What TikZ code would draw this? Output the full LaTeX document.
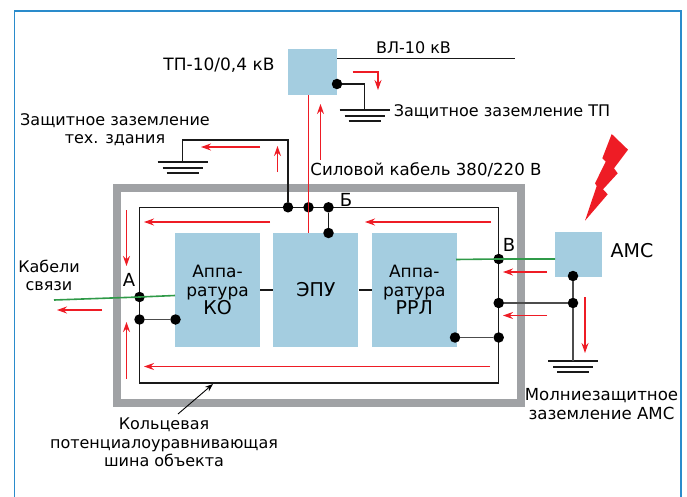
\documentclass[tikz,border=0pt]{standalone}
\usepackage{fontspec}
\setmainfont{DejaVu Sans}
\usepackage{tikz}
\usetikzlibrary{positioning,arrows.meta}
\definecolor{albastru}{HTML}{A4CDE0}
\definecolor{cadru}{HTML}{2A8BCB}
\definecolor{rosu}{HTML}{EE1C25}
\definecolor{verde}{HTML}{2F9A48}
\definecolor{gri}{HTML}{A0A2A5}
\newcommand{\mare}{\fontsize{19}{18.5}\selectfont}
\tikzset{
  bloc/.style     = {fill=albastru, inner sep=0pt, align=center, minimum width=85pt,
                     minimum height=114pt, font=\fontsize{17}{18.5}\selectfont},
  blocmic/.style  = {fill=albastru, inner sep=0pt},
  eticheta/.style = {font=\fontsize{16}{18.5}\selectfont, inner sep=0pt, align=center},
  litera/.style   = {font=\fontsize{18}{18.5}\selectfont, inner sep=0pt},
  punct/.style    = {circle, fill=black, inner sep=0pt, minimum size=10.5pt},
  fir/.style      = {draw=black!90, line width=1.2pt},
  firgros/.style  = {draw=black!70, line width=1.8pt},
  firverde/.style = {draw=verde, line width=1.6pt},
  sageata/.style  = {draw=rosu, line width=1.1pt, -{Stealth[length=10pt,width=7pt]}},
  zaz/.pic        = {
    \draw[fir] (-25,0) -- (25,0);
    \draw[fir] (-20,6) -- (20,6);
    \draw[fir] (-16,11) -- (16,11);
  }
}
\begin{document}
\begin{tikzpicture}[x=1pt,y=-1pt]
        \useasboundingbox (0,0) rectangle (687,497);
        \coordinate (c1) at (14.5,497);
        \coordinate (c2) at (14.5,11);
        \coordinate (c3) at (681,11);
        \coordinate (c4) at (681,497);
        \draw[cadru, line width=1.5pt] (c1) -- (c2) -- (c3) -- (c4);

        % cladirea si bucla
        \draw[gri, line width=8pt] (117,188) rectangle (521,402.5);
        \draw[fir] (139.5,207.3) rectangle (498.7,383);

        \node[bloc] (ko) at (217.5,290) {Аппа-\\ ратура\\ {\mare КО}};
        \node[bloc, right=13pt of ko] (epu) {\mare ЭПУ};
        \node[bloc, right=13pt of epu] (rrl) {Аппа-\\ ратура\\ {\mare РРЛ}};
        \node[blocmic, minimum width=49pt, minimum height=46pt] (tp) at (312.5,72) {};
        \node[blocmic, minimum width=47pt, minimum height=45pt] (ams) at (578.5,254.5) {};

        \draw[fir] (ko) -- (epu);
        \draw[fir] (epu) -- (rrl);

        % puncte
        \node[punct] (b1) at (288,207.3) {};
        \node[punct] (b2) at (308.5,207.3) {};
        \node[punct] (b3) at (328.5,207.3) {};
        \node[punct] (b4) at (328.5,233) {};
        \node[punct] (a1) at (139.5,297) {};
        \node[punct] (a2) at (139.5,319.5) {};
        \node[punct] (a3) at (175.5,319.5) {};
        \node[punct] (v1) at (498.7,259) {};
        \node[punct] (v2) at (498.7,303) {};
        \node[punct] (v3) at (498.7,337.5) {};
        \node[punct] (v4) at (455,337.5) {};
        \node[punct] (m1) at (573,303) {};
        \node[punct] (m2) at (573,276) {};
        \node[punct] (t1) at (337,84) {};

        % impamantari
        \coordinate (g1) at (182.5,162);
        \coordinate (g1s) at (182.5,140);
        \coordinate (g2) at (364.5,110);
        \coordinate (g2s) at (364.5,84);
        \coordinate (g3) at (573,361);
        \pic at (g1) {zaz};
        \pic at (g2) {zaz};
        \pic at (g3) {zaz};
        \draw[fir] (b1) |- (g1s) -- (g1);
        \draw[fir] (t1) -- (g2s) -- (g2);
        \draw[firgros] (m2) -- (m1) -- (g3);
        \draw[firgros] (v2) -- (m1);
        \draw[firgros] (v3) -- (v4);
        \draw[firgros] (a2) -- (a3);
        \draw[fir] (b3) -- (b4);

        \coordinate (vl) at (515,58.7);
        \draw[fir] (tp.east |- vl) -- (vl);

        % cabluri de legatura
        \coordinate (k1) at (54,300);
        \coordinate (k2) at (175,295.5);
        \coordinate (k3) at (456,259.5);
        \coordinate (k4) at (555,259);
        \draw[firverde] (k1) -- (a1.center) -- (k2);
        \draw[firverde] (k3) -- (v1.center) -- (k4);
        \coordinate (s1) at (308.5,95);
        \coordinate (s2) at (308.5,233);
        \draw[draw=rosu, line width=1.1pt] (s1) -- (s2);

        % fulger
        \fill[rosu] (611.7,134) -- (628,149.7) -- (614,168.3) -- (617.7,173.3) -- (603,189.3)
          -- (607.7,194.3) -- (585,220.7) -- (596.7,186) -- (595,183.3)
          -- (605.7,161.7) -- (602.3,158.3) -- cycle;
        \draw[sageata] (270,222) -- (144,222);
        \draw[sageata] (491,222) -- (365,222);
        \draw[sageata] (490,366.5) -- (144,366.5);
        \draw[sageata] (126.5,210) -- (126.5,266);
        \draw[sageata] (126.5,379) -- (126.5,322);
        \draw[sageata] (260,147) -- (201,147);
        \draw[sageata] (277.5,172) -- (277.5,146);
        \draw[sageata] (320.5,160) -- (320.5,104);
        \draw[sageata] (102,310) -- (57,310);
        \draw[sageata] (547,272) -- (503,272);
        \draw[sageata] (547,315.5) -- (503,315.5);
        \draw[sageata] (585,297) -- (585,353);
        \draw[sageata] (352.5,72) -- (378,72) -- (378,90);

        % etichete
        \node[eticheta] (tvl) at (413.5,48) {ВЛ-10 кВ};
        \node[eticheta, font=\fontsize{17}{18.5}\selectfont] (ttp) at (219,65) {ТП-10/0,4 кВ};
        \node[eticheta] (tzt) at (502,112) {Защитное заземление ТП};
        \node[eticheta] (tzc) at (115,129.5) {Защитное заземление\\ тех. здания};
        \node[eticheta, font=\fontsize{16.6}{18.5}\selectfont] (tsk) at (426,170) {Силовой кабель 380/220 В};
        \node[litera] (tb) at (346,200) {Б};
        \node[litera] (tv) at (509,245) {В};
        \node[litera] (ta) at (129,280) {А};
        \node[eticheta] (tk) at (49,275.5) {Кабели\\ связи};
        \node[litera, font=\mare] (tam) at (632,251) {АМС};
        \node[eticheta, font=\fontsize{16.6}{18.5}\selectfont] (tmz) at (601.5,404) {Молниезащитное\\ заземление АМС};
        \node[eticheta] (tks) at (164,442.5) {Кольцевая\\ потенциалоуравнивающая\\ шина объекта};

        \coordinate (pb) at (213,384);
        \draw[-{Stealth[length=8pt,width=6pt]}, line width=.9pt] (178,414) -- (pb);
    \end{tikzpicture}
\end{document}
